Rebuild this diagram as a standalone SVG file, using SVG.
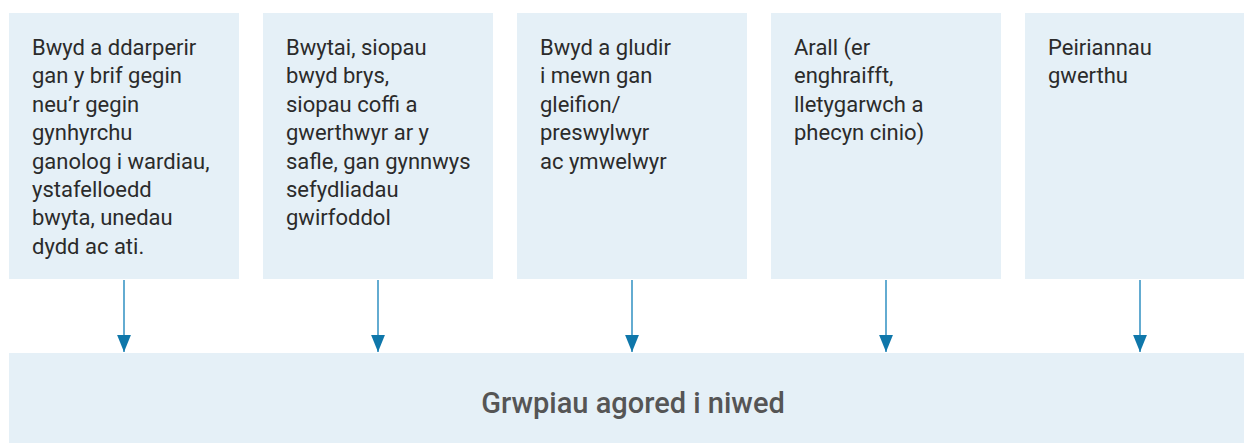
<svg xmlns="http://www.w3.org/2000/svg" width="1244" height="443" viewBox="0 0 1244 443">
<style>
.box{fill:#e5f0f7}
.t{font-family:Roboto,"Liberation Sans",sans-serif;font-size:22px;fill:#2b2b2b}
.b{font-family:Roboto,"Liberation Sans",sans-serif;font-size:29px;font-weight:500;fill:#555555}
.c{stroke:#3d97c6;stroke-width:1.6;fill:none}
</style>
<defs>
<marker id="ah" markerUnits="userSpaceOnUse" markerWidth="17" markerHeight="14" refX="16" refY="6.5" orient="auto" viewBox="0 0 16 13">
<path d="M0,0 L16,6.5 L0,13 Z" fill="#0f77aa"/>
</marker>
</defs>
<rect width="1244" height="443" fill="#ffffff"/>
<g id="n1">
<rect class="box" x="9" y="13" width="230" height="266"/>
<text class="t" x="32" y="55"><tspan x="32">Bwyd a ddarperir</tspan><tspan x="32" dy="28.4">gan y brif gegin</tspan><tspan x="32" dy="28.4">neu’r gegin</tspan><tspan x="32" dy="28.4">gynhyrchu</tspan><tspan x="32" dy="28.4">ganolog i wardiau,</tspan><tspan x="32" dy="28.4">ystafelloedd</tspan><tspan x="32" dy="28.4">bwyta, unedau</tspan><tspan x="32" dy="28.4">dydd ac ati.</tspan></text>
</g>
<g id="n2">
<rect class="box" x="263" y="13" width="230" height="266"/>
<text class="t" x="286" y="55"><tspan x="286">Bwytai, siopau</tspan><tspan x="286" dy="28.4">bwyd brys,</tspan><tspan x="286" dy="28.4">siopau coffi a</tspan><tspan x="286" dy="28.4">gwerthwyr ar y</tspan><tspan x="286" dy="28.4">safle, gan gynnwys</tspan><tspan x="286" dy="28.4">sefydliadau</tspan><tspan x="286" dy="28.4">gwirfoddol</tspan></text>
</g>
<g id="n3">
<rect class="box" x="517" y="13" width="230" height="266"/>
<text class="t" x="540" y="55"><tspan x="540">Bwyd a gludir</tspan><tspan x="540" dy="28.4">i mewn gan</tspan><tspan x="540" dy="28.4">gleifion/</tspan><tspan x="540" dy="28.4">preswylwyr</tspan><tspan x="540" dy="28.4">ac ymwelwyr</tspan></text>
</g>
<g id="n4">
<rect class="box" x="771" y="13" width="230" height="266"/>
<text class="t" x="794" y="55"><tspan x="794">Arall (er</tspan><tspan x="794" dy="28.4">enghraifft,</tspan><tspan x="794" dy="28.4">lletygarwch a</tspan><tspan x="794" dy="28.4">phecyn cinio)</tspan></text>
</g>
<g id="n5">
<rect class="box" x="1025" y="13" width="230" height="266"/>
<text class="t" x="1048" y="55"><tspan x="1048">Peiriannau</tspan><tspan x="1048" dy="28.4">gwerthu</tspan></text>
</g>
<g id="n6">
<rect class="box" x="9" y="353" width="1246" height="90"/>
<text class="b" x="633" y="413" text-anchor="middle">Grwpiau agored i niwed</text>
</g>
<g id="connectors">
<line class="c" x1="124" y1="280" x2="124" y2="352" marker-end="url(#ah)"/>
<line class="c" x1="378" y1="280" x2="378" y2="352" marker-end="url(#ah)"/>
<line class="c" x1="632" y1="280" x2="632" y2="352" marker-end="url(#ah)"/>
<line class="c" x1="886" y1="280" x2="886" y2="352" marker-end="url(#ah)"/>
<line class="c" x1="1140" y1="280" x2="1140" y2="352" marker-end="url(#ah)"/>
</g>
</svg>
